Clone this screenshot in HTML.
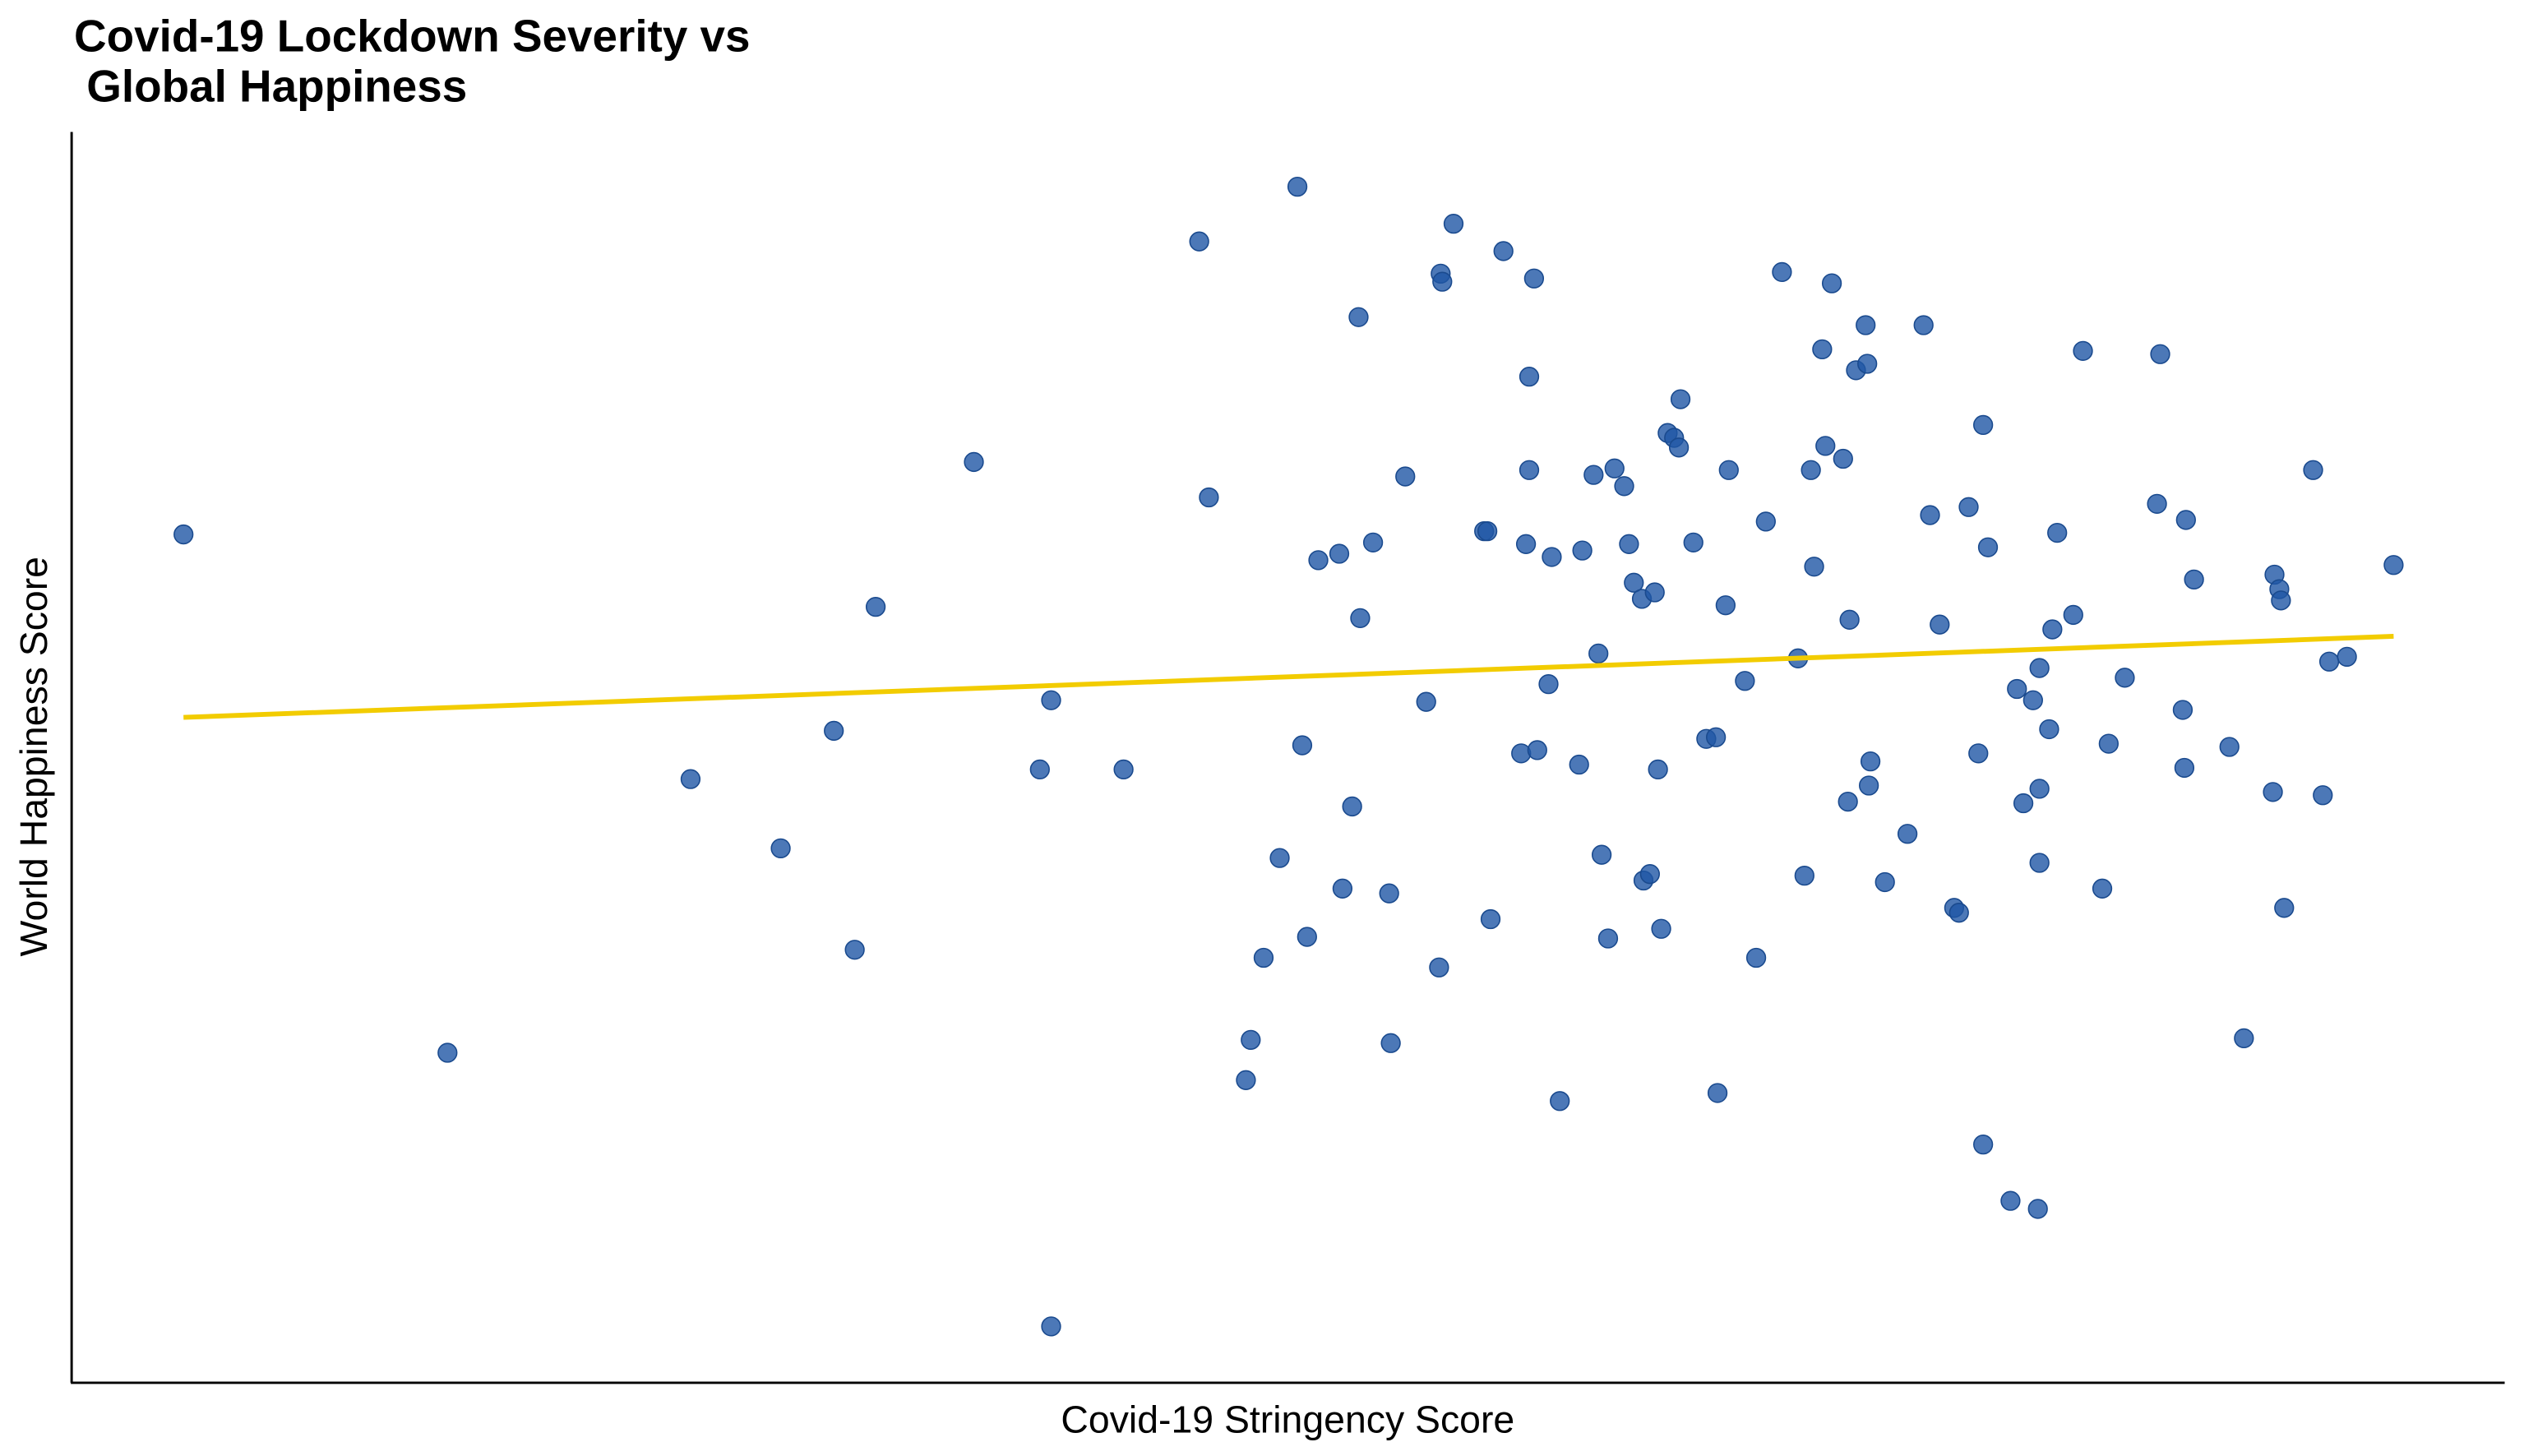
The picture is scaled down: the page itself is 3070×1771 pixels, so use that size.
<!DOCTYPE html>
<html><head><meta charset="utf-8"><style>
html,body{margin:0;padding:0;background:#fff;}
svg{display:block;}
text{font-family:"Liberation Sans",Arial,sans-serif;}
</style></head><body>
<svg id="chart" width="3070" height="1771" viewBox="0 0 1568 904.5" preserveAspectRatio="none" xmlns="http://www.w3.org/2000/svg">
<rect width="1568" height="904.5" fill="#fff"/>
<text x="46" y="32" font-size="28" font-weight="bold">Covid-19 Lockdown Severity vs</text>
<text x="46" y="63" font-size="28" font-weight="bold" xml:space="preserve"> Global Happiness</text>
<line x1="44.5" y1="82" x2="44.5" y2="859" stroke="#000" stroke-width="1.5"/>
<line x1="44" y1="859" x2="1556" y2="859" stroke="#000" stroke-width="1.5"/>
<text x="800" y="890" font-size="23.7" text-anchor="middle">Covid-19 Stringency Score</text>
<text transform="translate(29,470) rotate(-90)" font-size="23.7" text-anchor="middle">World Happiness Score</text>
<g id="points"></g>
<g id="trend"></g>
</svg>
<script>
// stringency score (x) and happiness score (y)
const stringency = [11.4,27.8,42.9,48.5,51.8,53.1,54.4,60.5,64.6,65.3,65.3,69.8,74.5,75.1,77.4,77.7,78.5,79.5,80.6,80.9,81.2,81.9,83.2,83.4,84.0,84.4,84.5,85.3,86.3,86.4,87.3,88.6,89.4,89.5,89.6,90.3,92.2,92.4,92.6,93.4,94.5,94.8,95.0,95.0,95.3,95.5,96.2,96.4,96.9,98.1,98.3,99.0,99.3,99.5,99.9,100.3,100.9,101.2,101.5,102.0,102.1,102.5,102.8,103.0,103.2,103.6,104.0,104.3,104.4,105.2,106.0,106.6,106.7,107.2,107.4,108.4,109.1,109.7,110.7,111.7,112.1,112.5,112.7,113.2,113.4,113.8,114.5,114.8,114.9,115.3,115.9,116.0,116.1,116.2,117.1,118.5,119.5,119.9,120.5,121.4,121.7,122.3,122.9,123.2,123.2,123.5,124.9,125.3,125.7,126.3,126.6,126.7,126.7,126.7,127.3,127.5,127.8,128.8,129.4,130.6,131.0,132.0,134.0,134.2,135.6,135.7,135.8,136.3,138.5,139.4,141.2,141.3,141.6,141.7,141.9,143.7,144.3,144.7,145.8,148.7];
const happiness = [5.68,2.46,4.16,3.73,4.46,3.10,5.23,6.13,4.22,4.65,0.76,4.22,7.50,5.91,2.29,2.54,3.05,3.67,7.84,4.37,3.18,5.52,5.56,3.48,3.99,7.03,5.16,5.63,3.45,2.52,6.04,4.64,2.99,7.30,7.25,7.61,5.70,5.70,3.29,7.44,4.32,5.62,6.08,6.66,7.27,4.34,4.75,5.54,2.16,4.25,5.58,6.05,4.94,3.69,3.17,6.09,5.98,5.62,5.38,5.28,3.53,3.57,5.32,4.22,3.23,6.31,6.28,6.22,6.52,5.63,4.41,4.42,2.21,5.24,6.08,4.77,3.05,5.76,7.31,4.91,3.56,6.08,5.48,6.83,6.23,7.24,6.15,4.02,5.15,6.70,6.98,6.74,4.12,4.27,3.52,3.82,6.98,5.80,5.12,3.36,3.33,5.85,4.32,6.36,1.89,5.60,1.54,4.72,4.01,4.65,1.49,4.85,4.10,3.64,4.47,5.09,5.69,5.18,6.82,3.48,4.38,4.79,5.87,6.80,4.59,4.23,5.77,5.40,4.36,2.55,4.08,5.43,5.34,5.27,3.36,6.08,4.06,4.89,4.92,5.49];
const sx = v => v * 10;
const sy = v => 900 - v * 100;
const NS = 'http://www.w3.org/2000/svg';
const gp = document.getElementById('points');
for (let i = 0; i < stringency.length; i++) {
  const c = document.createElementNS(NS, 'circle');
  c.setAttribute('cx', sx(stringency[i]));
  c.setAttribute('cy', sy(happiness[i]));
  c.setAttribute('r', 5.8);
  c.setAttribute('fill', '#1f56a5');
  c.setAttribute('fill-opacity', '0.8');
  c.setAttribute('stroke', '#1a4a8e');
  c.setAttribute('stroke-width', '0.8');
  
  
  gp.appendChild(c);
}
// linear regression trend
const n = stringency.length;
let mx = 0, my = 0;
for (let i = 0; i < n; i++) { mx += stringency[i]; my += happiness[i]; }
mx /= n; my /= n;
let num = 0, den = 0;
for (let i = 0; i < n; i++) { num += (stringency[i]-mx)*(happiness[i]-my); den += (stringency[i]-mx)**2; }
const slope = num/den, icpt = my - slope*mx;
const xmin = Math.min(...stringency), xmax = Math.max(...stringency);
const ln = document.createElementNS(NS, 'line');
ln.setAttribute('x1', sx(xmin)); ln.setAttribute('y1', sy(icpt + slope*xmin));
ln.setAttribute('x2', sx(xmax)); ln.setAttribute('y2', sy(icpt + slope*xmax));
ln.setAttribute('stroke', '#f2cc00'); ln.setAttribute('stroke-width', '3');


document.getElementById('trend').appendChild(ln);
</script>
</body></html>
